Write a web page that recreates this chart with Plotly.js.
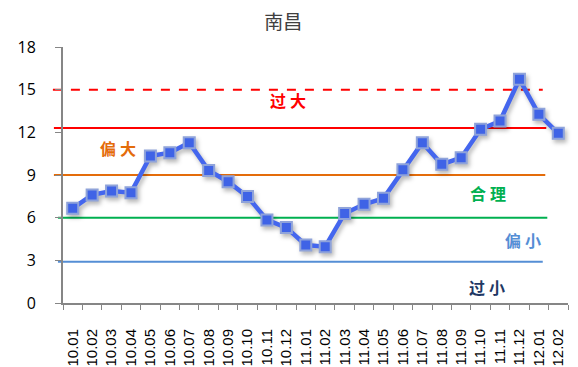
<!DOCTYPE html>
<html>
<head>
<meta charset="utf-8">
<script src="https://cdn.plot.ly/plotly-3.0.1.min.js"></script>
<style>
  html, body { margin: 0; padding: 0; background: #fff; }
  #chart { width: 578px; height: 367px; }
  .scatterlayer .trace { filter: drop-shadow(2px 3px 2px rgba(0,0,0,0.28)); }
</style>
</head>
<body>
<div id="chart"></div>
<script>
// Monthly readings for 南昌, Oct 2010 – Feb 2012
const months = ['10.01','10.02','10.03','10.04','10.05','10.06','10.07','10.08','10.09','10.10','10.11','10.12',
                '11.01','11.02','11.03','11.04','11.05','11.06','11.07','11.08','11.09','11.10','11.11','11.12',
                '12.01','12.02'];
const values = [6.66, 7.6, 7.88, 7.76, 10.34, 10.57, 11.27, 9.32, 8.53, 7.48, 5.84, 5.3,
                4.08, 3.96, 6.3, 6.94, 7.36, 9.37, 11.27, 9.75, 10.22, 12.21, 12.8, 15.73,
                13.27, 11.93];

// Band boundaries and their labels
const bandLevels = [15, 12.3, 9, 6, 2.9];
const bandColors = ['#FF0000', '#FF0000', '#E46C0A', '#00B050', '#558ED5'];
const bandDash   = ['dash', 'solid', 'solid', 'solid', 'solid'];
const bandLabels = ['过大', '偏大', '合理', '偏小', '过小'];
const labelY     = [14.28, 10.9, 7.76, 4.43, 1.15];
const labelColors = ['#FF0000', '#E46C0A', '#00B050', '#558ED5', '#1F3864'];

const yTicks = [0, 3, 6, 9, 12, 15, 18];

const lineStart = [-0.02, -0.018, -0.018, -0.01, -0.01];
const lineEnd   = [0.95, 0.957, 0.955, 0.959, 0.95];
const labelX    = [0.446, 0.109, 0.841, 0.911, 0.839];

const shapes = bandLevels.map((lv, i) => ({
  type: 'line', xref: 'paper', yref: 'y',
  x0: lineStart[i], x1: lineEnd[i], y0: lv, y1: lv,
  line: { color: bandColors[i], width: 2, dash: bandDash[i] },
  layer: 'below'
}));

// labels are set with a small gap between the two characters
const annotations = bandLabels.map((t, i) => ({
  text: '<b>' + t.split('').join('\u2005') + '</b>', xref: 'paper', yref: 'y',
  x: labelX[i], y: labelY[i], xanchor: 'center', yanchor: 'middle',
  showarrow: false,
  font: { family: 'Noto Sans CJK SC', size: 16, color: labelColors[i] }
}));

const trace = {
  x: months, y: values, type: 'scatter', mode: 'lines+markers',
  line: { color: '#4466EE', width: 4.5 },
  marker: { symbol: 'square', size: 11, color: '#3F63E6',
            line: { color: '#8FA3DA', width: 2 } },
  hoverinfo: 'skip', cliponaxis: false
};

const layout = {
  width: 578, height: 367,
  margin: { l: 63, r: 10, t: 47, b: 64 },
  paper_bgcolor: '#fff', plot_bgcolor: '#fff',
  showlegend: false,
  title: { text: '南昌', x: 0.49, xanchor: 'center', y: 0.94, yanchor: 'middle',
           font: { family: 'Noto Sans CJK SC', size: 19, color: '#404040' } },
  xaxis: {
    type: 'category', tickangle: -90,
    showline: true, linecolor: '#868686', linewidth: 2,
    ticks: 'outside', ticklen: 5, tickcolor: '#868686', tickwidth: 1,
    tickson: 'boundaries',
    showgrid: false, zeroline: false,
    ticklabelstandoff: 18,
    tickfont: { family: 'Liberation Sans', size: 15, color: '#000' },
    range: [-0.5, months.length - 0.5]
  },
  yaxis: {
    range: [0, 18], tickvals: yTicks,
    showline: true, linecolor: '#868686', linewidth: 2,
    ticks: 'outside', ticklen: 6, tickcolor: '#868686', tickwidth: 1,
    showgrid: false, zeroline: false,
    ticklabelstandoff: 16,
    tickfont: { family: 'Open Sans', size: 16, color: '#000' }
  },
  shapes: shapes,
  annotations: annotations
};

Plotly.newPlot('chart', [trace], layout, { staticPlot: true, displayModeBar: false });
</script>
</body>
</html>
